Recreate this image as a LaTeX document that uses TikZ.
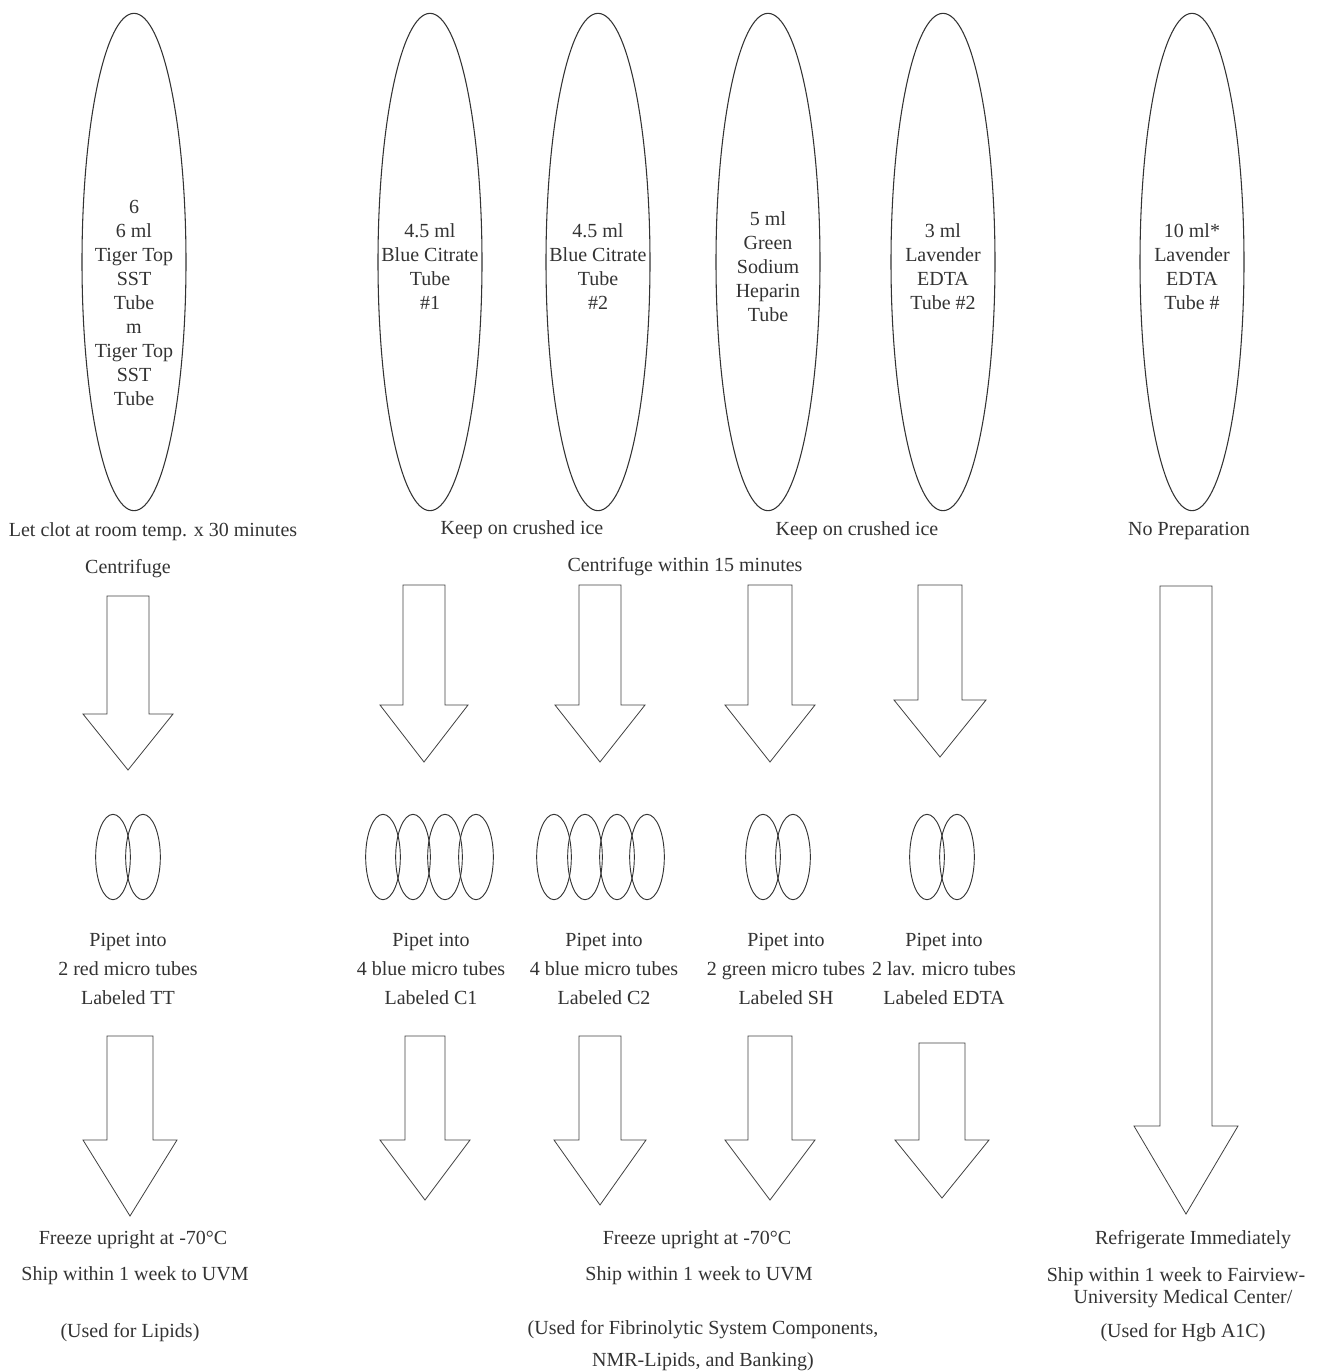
\documentclass[tikz,border=0pt]{standalone}
\usepackage{fontspec}
\setmainfont{Liberation Serif}
\usetikzlibrary{shapes.geometric}

% x, top, half shaft, half head, head base, tip
\newcommand{\blockarrow}[6]{%
  \draw[flowarrow] (#1-#3,#2) -- (#1+#3,#2) -- (#1+#3,#5) -- (#1+#4,#5)
    -- (#1,#6) -- (#1-#4,#5) -- (#1-#3,#5) -- cycle;}

\begin{document}
\begin{tikzpicture}
  [
    x=0.75pt, y=-0.75pt,
    note/.style={text=black!80, inner sep=0pt, align=center, font=\fontsize{15}{18}\selectfont},
    tube/.style={ellipse, draw=black!80, line width=0.8pt, minimum width=78pt, minimum height=373pt, inner sep=0pt},
    tubelabel/.style={note, yshift=-3.75pt},
    micro/.style={ellipse, draw=black!80, line width=0.7pt, minimum width=26pt, minimum height=64pt, inner sep=0pt},
    pipet/.style={note, font=\fontsize{15}{21.5}\selectfont},
    flowarrow/.style={draw=black!75, line width=0.6pt},
  ]
  \useasboundingbox (0,0) rectangle (1337,1372);

  % blood tubes
  \node[tube] (tt) at (134,262) {};
  \node[tube] (bc1) at (430,262) {};
  \node[tube] (bc2) at (598,262) {};
  \node[tube] (sh) at (768,262) {};
  \node[tube] (ed2) at (943,262) {};
  \node[tube] (ed1) at (1192,262) {};
  \node[note] (ttlabel) at (134,303) {6\\6 ml\\Tiger Top\\SST\\Tube\\m\\Tiger Top\\SST\\Tube};
  \node[tubelabel] (bc1label) at (bc1) {4.5 ml\\Blue Citrate\\Tube\\\#1};
  \node[tubelabel] (bc2label) at (bc2) {4.5 ml\\Blue Citrate\\Tube\\\#2};
  \node[tubelabel] (shlabel) at (sh) {5 ml\\Green\\Sodium\\Heparin\\Tube};
  \node[tubelabel] (ed2label) at (ed2) {3 ml\\Lavender\\EDTA\\Tube \#2};
  \node[tubelabel] (ed1label) at (ed1) {10 ml*\\Lavender\\EDTA\\Tube \#};

  % preparation
  \node[note] (clot) at (153,532) {Let clot at room temp. x 30 minutes};
  \node[note] (cent) at (128,569) {Centrifuge};
  \node[note] (ice1) at (522,530) {Keep on crushed ice};
  \node[note] (ice2) at (857,531) {Keep on crushed ice};
  \node[note] (cent15) at (685,567) {Centrifuge within 15 minutes};
  \node[note] (noprep) at (1189,531) {No Preparation};

  % first arrows
  \blockarrow{128}{596}{21}{45}{714}{770}
  \blockarrow{424}{585}{21}{44}{705}{762}
  \blockarrow{600}{585}{21}{45}{705}{762}
  \blockarrow{770}{585}{22}{45}{705}{762}
  \blockarrow{940}{585}{22}{46}{700}{757}
  \blockarrow{1186}{586}{26}{52}{1126}{1214}

  % micro tubes
  \foreach \x [count=\i] in {113,143}
    \node[micro] (tt-\i) at (\x,857) {};
  \foreach \x [count=\i] in {383,413,445,476}
    \node[micro] (c1-\i) at (\x,857) {};
  \foreach \x [count=\i] in {554,585,617,647}
    \node[micro] (c2-\i) at (\x,857) {};
  \foreach \x [count=\i] in {763,793}
    \node[micro] (sh-\i) at (\x,857) {};
  \foreach \x [count=\i] in {927,957}
    \node[micro] (ed-\i) at (\x,857) {};

  \node[pipet] (pipTT) at (128,969) {Pipet into\\2 red micro tubes\\Labeled TT};
  \node[pipet] (pipC1) at (431,969) {Pipet into\\4 blue micro tubes\\Labeled C1};
  \node[pipet] (pipC2) at (604,969) {Pipet into\\4 blue micro tubes\\Labeled C2};
  \node[pipet] (pipSH) at (786,969) {Pipet into\\2 green micro tubes\\Labeled SH};
  \node[pipet] (pipED) at (944,969) {Pipet into\\2 lav. micro tubes\\Labeled EDTA};

  % second arrows
  \blockarrow{130}{1036}{23}{47}{1140}{1216}
  \blockarrow{425}{1036}{20}{45}{1140}{1200}
  \blockarrow{600}{1036}{21}{46}{1140}{1205}
  \blockarrow{770}{1036}{22}{45}{1140}{1200}
  \blockarrow{942}{1043}{23}{47}{1140}{1198}

  % storage
  \node[note] (frzL) at (133,1240) {Freeze upright at -70°C};
  \node[note] (shipL) at (135,1276) {Ship within 1 week to UVM};
  \node[note] (useL) at (130,1333) {(Used for Lipids)};
  \node[note] (frzM) at (697,1240) {Freeze upright at -70°C};
  \node[note] (shipM) at (699,1276) {Ship within 1 week to UVM};
  \node[note] (useM) at (703,1330) {(Used for Fibrinolytic System Components,};
  \node[note] (useM2) at (703,1362) {NMR-Lipids, and Banking)};
  \node[note] (refR) at (1193,1240) {Refrigerate Immediately};
  \node[note] (shipR) at (1176,1277) {Ship within 1 week to Fairview-};
  \node[note] (shipR2) at (1183,1299) {University Medical Center/};
  \node[note] (useR) at (1183,1333) {(Used for Hgb A1C)};
\end{tikzpicture}
\end{document}
